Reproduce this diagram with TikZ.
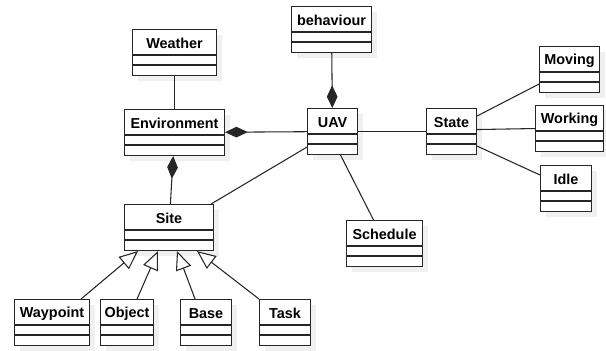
\documentclass[tikz,border=0pt]{standalone}
\usepackage{fontspec}
\setmainfont{Liberation Sans}
\usetikzlibrary{calc,arrows.meta}
\tikzset{classbox/.style={draw, fill=white, minimum height=46*0.75pt, inner sep=0pt},
    classname/.style={inner sep=0.75pt, font=\fontsize{10.8}{13}\selectfont\bfseries},
    classshadow/.style={fill=black!6},
    compose/.style={-{Diamond[length=17pt,width=8pt]}},
    inherit/.style={-{Triangle[open,length=14pt,width=12pt,fill=white]}}}
% class box: name, x, y, width, title
\newcommand{\umlclass}[5]{%
  \fill[classshadow] (#2+6,#3+6) rectangle (#2+#4+6,#3+52);
  \node[classbox, minimum width=#4*0.75pt, anchor=north west] (#1) at (#2,#3) {};
  \node[classname] (#1-name) at ($(#1.north)+(0,14.5)$) {#5};
  \draw ($(#1.north west)+(0,26)$) -- ($(#1.north east)+(0,26)$);
  \draw ($(#1.north west)+(0,36)$) -- ($(#1.north east)+(0,36)$);
}

\begin{document}
\begin{tikzpicture}[x=0.75pt,y=0.75pt,yscale=-1,xscale=1,line width=0.8pt,draw=black!85]
\useasboundingbox (0,0) rectangle (606,350);

%Classes
\umlclass{behaviour}{291}{6}{80}{behaviour}
\umlclass{weather}{132}{29}{84}{Weather}
\umlclass{moving}{539}{46}{60}{Moving}
\umlclass{env}{124}{109}{100}{Environment}
\umlclass{uav}{307}{108}{50}{UAV}
\umlclass{state}{426}{108}{50}{State}
\umlclass{working}{535}{105}{68}{Working}
\umlclass{idle}{540}{165}{51}{Idle}
\umlclass{site}{124}{204}{89}{Site}
\umlclass{schedule}{346}{220}{76}{Schedule}
\umlclass{waypoint}{14}{299}{75}{Waypoint}
\umlclass{object}{100}{299}{53}{Object}
\umlclass{base}{180}{299}{51}{Base}
\umlclass{task}{259}{299}{51}{Task}

%Associations
\draw (weather) -- (env);
\draw (uav) -- (state);
\draw ($(uav.south west)+(0,-8)$) -- ($(site.north east)+(-3,0)$);
\draw ($(uav.south)+(8,0)$) -- ($(schedule.north)+(-11,0)$);
\draw ($(state.north east)+(0,8)$) -- ($(moving.south west)+(0,-9)$);
\draw ($(state.east)+(0,-2)$) -- ($(working.west)+(0,0)$);
\draw ($(state.south east)+(0,-9)$) -- ($(idle.north west)+(0,10)$);

%Compositions
\draw[compose] (behaviour) -- (uav);
\draw[compose] (uav) -- (env);
\draw[compose] (site) -- (env);

%Generalisations
\draw[inherit] ($(waypoint.north east)+(-9,0)$) -- ($(site.south west)+(14,0)$);
\draw[inherit] ($(object.north)+(10,0)$) -- ($(site.south west)+(34,0)$);
\draw[inherit] ($(base.north)+(-11,0)$) -- ($(site.south west)+(53,0)$);
\draw[inherit] (task.north west) -- ($(site.south west)+(73,0)$);

\end{tikzpicture}
\end{document}
